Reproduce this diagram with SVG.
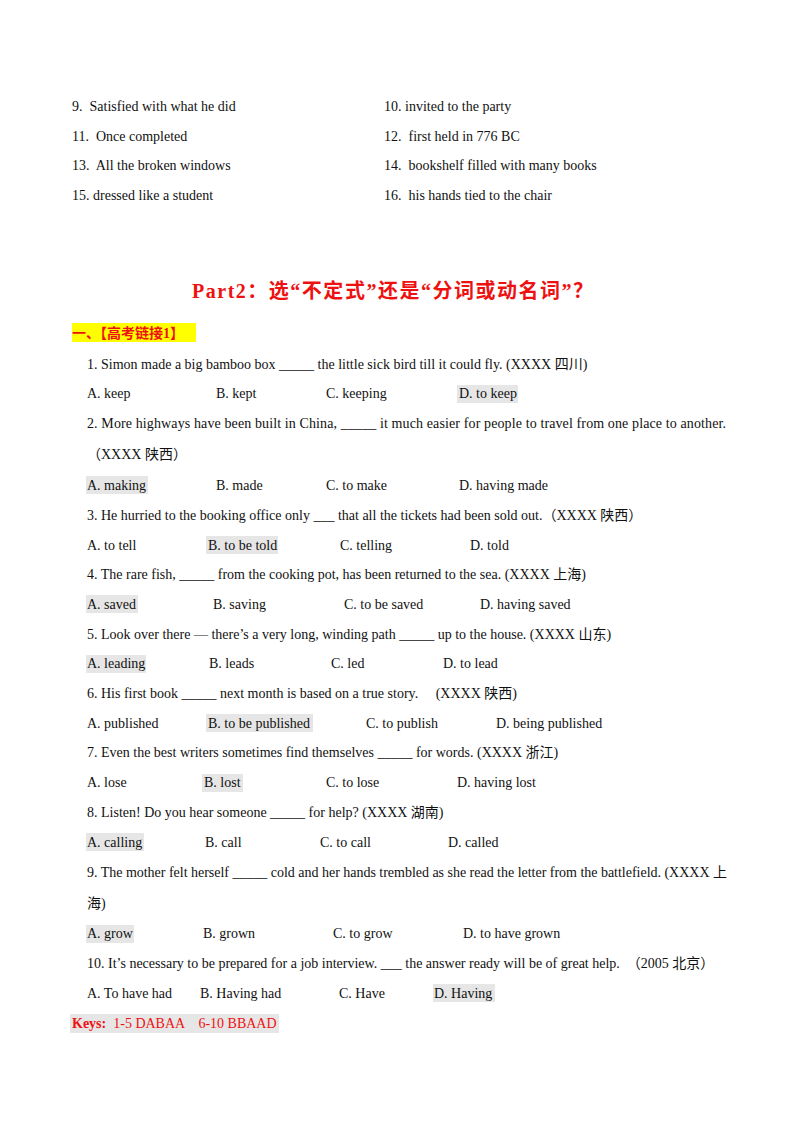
<svg xmlns="http://www.w3.org/2000/svg" width="800" height="1132" viewBox="0 0 800 1132" xml:space="preserve">
<style>
text{font-family:"Liberation Serif","Noto Sans CJK SC",serif;font-size:14px;fill:#111;white-space:pre}
.h{fill:#e6e6e6}
.r{fill:#ee1111;font-weight:bold}
</style>
<rect width="800" height="1132" fill="#fff"/>
<text x="72" y="111">9.  Satisfied with what he did</text>
<text x="384" y="111">10. invited to the party</text>
<text x="72" y="141">11.  Once completed</text>
<text x="384" y="141">12.  first held in 776 BC</text>
<text x="72" y="170">13.  All the broken windows</text>
<text x="384" y="170">14.  bookshelf filled with many books</text>
<text x="72" y="200">15. dressed like a student</text>
<text x="384" y="200">16.  his hands tied to the chair</text>
<text x="192" y="298" class="r" style="font-size:20px" textLength="401" lengthAdjust="spacing">Part2：选“不定式”还是“分词或动名词”？</text>
<rect x="72" y="323" width="124" height="19" fill="#ffff00"/>
<text x="72" y="338" class="r">一、【高考链接1】</text>
<rect class="h" x="457" y="385" width="61" height="18"/>
<rect class="h" x="86" y="476" width="62" height="18"/>
<rect class="h" x="206" y="536" width="72" height="18"/>
<rect class="h" x="86" y="595" width="52" height="18"/>
<rect class="h" x="86" y="655" width="60" height="18"/>
<rect class="h" x="206" y="714" width="107" height="18"/>
<rect class="h" x="202" y="774" width="41" height="18"/>
<rect class="h" x="86" y="833" width="58" height="18"/>
<rect class="h" x="86" y="925" width="48" height="18"/>
<rect class="h" x="433" y="984" width="62" height="18"/>
<rect class="h" x="70" y="1014" width="209" height="19"/>
<text x="87" y="369">1. Simon made a big bamboo box _____ the little sick bird till it could fly. (XXXX 四川)</text>
<text x="87" y="398">A. keep</text><text x="216" y="398">B. kept</text><text x="326" y="398">C. keeping</text><text x="459" y="398">D. to keep</text>
<text x="87" y="428" textLength="639" lengthAdjust="spacing">2. More highways have been built in China, _____ it much easier for people to travel from one place to another.</text>
<text x="87" y="459">（XXXX 陕西）</text>
<text x="87" y="490">A. making</text><text x="216" y="490">B. made</text><text x="326" y="490">C. to make</text><text x="459" y="490">D. having made</text>
<text x="87" y="520">3. He hurried to the booking office only ___ that all the tickets had been sold out.（XXXX 陕西）</text>
<text x="87" y="550">A. to tell</text><text x="208" y="550">B. to be told</text><text x="340" y="550">C. telling</text><text x="470" y="550">D. told</text>
<text x="87" y="579">4. The rare fish, _____ from the cooking pot, has been returned to the sea. (XXXX 上海)</text>
<text x="87" y="609">A. saved</text><text x="213" y="609">B. saving</text><text x="344" y="609">C. to be saved</text><text x="480" y="609">D. having saved</text>
<text x="87" y="639">5. Look over there — there’s a very long, winding path _____ up to the house. (XXXX 山东)</text>
<text x="87" y="668">A. leading</text><text x="209" y="668">B. leads</text><text x="331" y="668">C. led</text><text x="443" y="668">D. to lead</text>
<text x="87" y="698">6. His first book _____ next month is based on a true story.     (XXXX 陕西)</text>
<text x="87" y="728">A. published</text><text x="208" y="728">B. to be published</text><text x="366" y="728">C. to publish</text><text x="496" y="728">D. being published</text>
<text x="87" y="757">7. Even the best writers sometimes find themselves _____ for words. (XXXX 浙江)</text>
<text x="87" y="787">A. lose</text><text x="204" y="787">B. lost</text><text x="326" y="787">C. to lose</text><text x="457" y="787">D. having lost</text>
<text x="87" y="817">8. Listen! Do you hear someone _____ for help? (XXXX 湖南)</text>
<text x="87" y="847">A. calling</text><text x="205" y="847">B. call</text><text x="320" y="847">C. to call</text><text x="448" y="847">D. called</text>
<text x="87" y="877" textLength="640" lengthAdjust="spacing">9. The mother felt herself _____ cold and her hands trembled as she read the letter from the battlefield. (XXXX 上</text>
<text x="87" y="908">海)</text>
<text x="87" y="938">A. grow</text><text x="203" y="938">B. grown</text><text x="333" y="938">C. to grow</text><text x="463" y="938">D. to have grown</text>
<text x="87" y="968">10. It’s necessary to be prepared for a job interview. ___ the answer ready will be of great help.  （2005 北京）</text>
<text x="87" y="998">A. To have had</text><text x="200" y="998">B. Having had</text><text x="339" y="998">C. Have</text><text x="434" y="998">D. Having</text>
<text x="72" y="1028" style="fill:#ee1111"><tspan font-weight="bold">Keys:</tspan>  1-5 DABAA    6-10 BBAAD</text>
</svg>
